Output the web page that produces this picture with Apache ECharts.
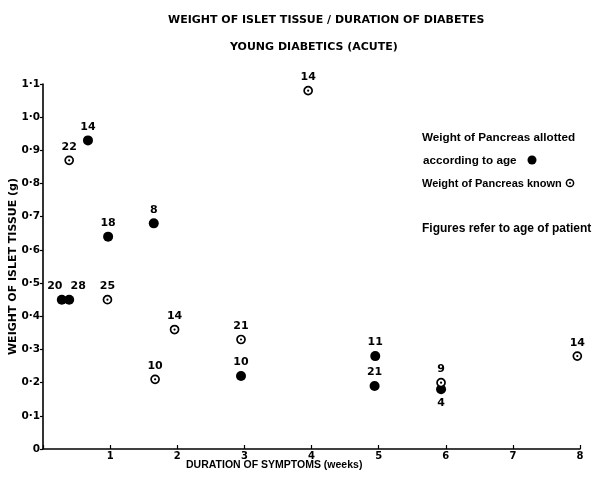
<!DOCTYPE html>
<html>
<head>
<meta charset="utf-8">
<script src="https://cdn.jsdelivr.net/npm/echarts@6/dist/echarts.min.js"></script>
<style>
  html, body { margin: 0; padding: 0; background: #fff; }
  #chart { width: 608px; height: 483px; }
</style>
</head>
<body>
<div id="chart"></div>
<script>
// Weight of islet tissue (g) against duration of symptoms (weeks), young acute diabetics.
// Filled points: pancreas weight allotted according to age.
const allottedWeeks  = [0.28, 0.39, 0.67, 0.97, 1.65, 2.95, 4.95, 4.94, 5.93];
const allottedWeight = [0.45, 0.45, 0.93, 0.64, 0.68, 0.22, 0.28, 0.19, 0.18];
const allottedAge    = ['20', '28', '14', '18', '8', '10', '11', '21', '4'];

// Open points: pancreas weight known.
const knownWeeks  = [0.39, 0.96, 1.67, 1.96, 2.95, 3.95, 5.93, 7.96];
const knownWeight = [0.87, 0.45, 0.21, 0.36, 0.33, 1.08, 0.20, 0.28];
const knownAge    = ['22', '25', '10', '14', '21', '14', '9', '14'];

const xTickLabels = ['', '1', '2', '3', '4', '5', '6', '7', '8'];
const yTickLabels = ['0', '0·1', '0·2', '0·3', '0·4', '0·5', '0·6', '0·7', '0·8', '0·9', '1·0', '1·1'];

const FONT = 'DejaVu Sans';
const INK = '#000';

// Label placement tweaks for crowded points (by age text)
const allottedLabelStyle = {
  '20': { position: 'top', offset: [-7, 0] },
  '28': { position: 'top', offset: [9, 0] },
  '4':  { position: 'bottom', distance: 3 }
};

function pairs(xs, ys) { return xs.map((x, i) => [x, ys[i]]); }

const labelBase = {
  show: true, position: 'top', distance: 3,
  color: INK, fontFamily: FONT, fontWeight: 'bold', fontSize: 11
};

const allottedData = pairs(allottedWeeks, allottedWeight).map((v, i) => ({
  value: v,
  label: Object.assign({}, labelBase, allottedLabelStyle[allottedAge[i]] || {}, {
    formatter: allottedAge[i]
  })
}));

const knownData = pairs(knownWeeks, knownWeight).map((v, i) => ({
  value: v,
  label: Object.assign({}, labelBase, { formatter: knownAge[i] })
}));

const chart = echarts.init(document.getElementById('chart'), null, { renderer: 'canvas' });

const legendFont = size => 'bold ' + size + 'px "Liberation Sans"';

chart.setOption({
  backgroundColor: '#fff',
  animation: false,
  title: [
    {
      text: 'WEIGHT OF ISLET TISSUE / DURATION OF DIABETES',
      left: 163, top: 10,
      textStyle: { fontFamily: FONT, fontWeight: 'bold', fontSize: 11, color: INK }
    },
    {
      text: 'YOUNG DIABETICS (ACUTE)',
      left: 225, top: 37,
      textStyle: { fontFamily: FONT, fontWeight: 'bold', fontSize: 11, color: INK }
    }
  ],
  grid: { left: 43, right: 28, top: 84, bottom: 34, containLabel: false, outerBoundsMode: 'none' },
  xAxis: {
    type: 'value', min: 0, max: 8, interval: 1,
    axisLine: { show: true, onZero: false, lineStyle: { color: INK, width: 1.6 } },
    axisTick: { show: true, inside: true, length: 4, lineStyle: { color: INK, width: 1.2 } },
    axisLabel: {
      color: INK, fontFamily: FONT, fontWeight: 'bold', fontSize: 10, margin: 2,
      formatter: v => xTickLabels[Math.round(v)]
    },
    splitLine: { show: false }
  },
  yAxis: {
    type: 'value', min: 0, max: 1.1, interval: 0.1,
    name: 'WEIGHT OF ISLET TISSUE (g)',
    nameLocation: 'middle', nameGap: 24, nameRotate: 90, nameMoveOverlap: false,
    nameTextStyle: { color: INK, fontFamily: FONT, fontWeight: 'bold', fontSize: 11 },
    axisLine: { show: true, onZero: false, lineStyle: { color: INK, width: 1.6 } },
    axisTick: { show: true, inside: false, length: 3, lineStyle: { color: INK, width: 1.2 } },
    axisLabel: {
      color: INK, fontFamily: FONT, fontWeight: 'bold', fontSize: 10.5, margin: 3,
      formatter: v => yTickLabels[Math.round(v * 10)]
    },
    splitLine: { show: false }
  },
  series: [
    {
      name: 'Weight of Pancreas allotted according to age',
      type: 'scatter',
      data: allottedData,
      symbol: 'circle', symbolSize: 10,
      itemStyle: { color: INK, borderWidth: 0, opacity: 1 },
      z: 3
    },
    {
      name: 'Weight of Pancreas known',
      type: 'scatter',
      data: knownData,
      symbol: 'circle', symbolSize: 8,
      itemStyle: { color: '#fff', borderColor: INK, borderWidth: 1.7, opacity: 1 },
      z: 4
    },
    {
      // centre dot of the open markers
      type: 'scatter',
      data: pairs(knownWeeks, knownWeight),
      symbol: 'circle', symbolSize: 2.2,
      itemStyle: { color: INK, opacity: 1 },
      silent: true,
      z: 5
    }
  ],
  graphic: [
    {
      type: 'text', left: 186, top: 460,
      style: { text: 'DURATION OF SYMPTOMS (weeks)', fill: INK, font: 'bold 10.5px "Liberation Sans"' }
    },
    {
      type: 'text', left: 422, top: 132,
      style: { text: 'Weight of Pancreas allotted', fill: INK, font: legendFont(11.7) }
    },
    {
      type: 'text', left: 423, top: 155,
      style: { text: 'according to age', fill: INK, font: legendFont(11.7) }
    },
    {
      type: 'circle', shape: { cx: 532, cy: 160, r: 4.5 },
      style: { fill: INK }
    },
    {
      type: 'text', left: 422, top: 178,
      style: { text: 'Weight of Pancreas known', fill: INK, font: legendFont(11) }
    },
    {
      type: 'circle', shape: { cx: 570, cy: 183, r: 3.6 },
      style: { fill: '#fff', stroke: INK, lineWidth: 1.5 }
    },
    {
      type: 'circle', shape: { cx: 570, cy: 183, r: 1 },
      style: { fill: INK }
    },
    {
      type: 'text', left: 422, top: 223,
      style: { text: 'Figures refer to age of patient', fill: INK, font: legendFont(12) }
    }
  ]
});
</script>
</body>
</html>
